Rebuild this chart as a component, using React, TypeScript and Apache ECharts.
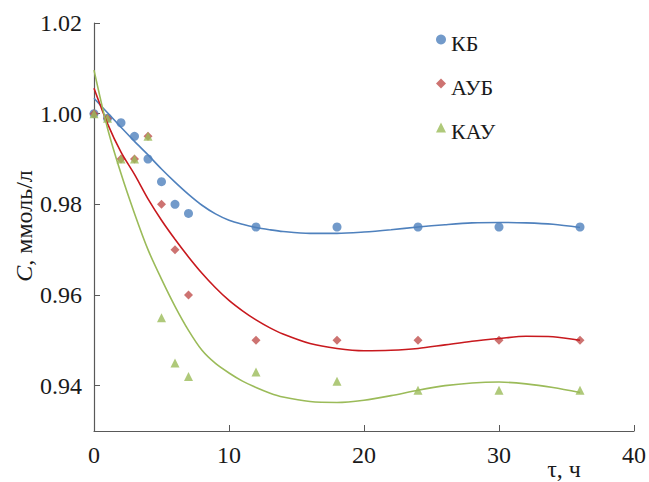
import React, { useEffect, useRef } from "react";
import * as echarts from "echarts";

// Measured points
const xKB = [0, 1, 2, 3, 4, 5, 6, 7, 12, 18, 24, 30, 36];
const yKB = [1.0, 0.999, 0.998, 0.995, 0.99, 0.985, 0.98, 0.978, 0.975, 0.975, 0.975, 0.975, 0.975];

const xAUB = [0, 1, 2, 3, 4, 5, 6, 7, 12, 18, 24, 30, 36];
const yAUB = [1.0, 0.999, 0.99, 0.99, 0.995, 0.98, 0.97, 0.96, 0.95, 0.95, 0.95, 0.95, 0.95];

const xKAU = [0, 1, 2, 3, 4, 5, 6, 7, 12, 18, 24, 30, 36];
const yKAU = [1.0, 0.999, 0.99, 0.99, 0.995, 0.955, 0.945, 0.942, 0.943, 0.941, 0.939, 0.939, 0.939];

// Trend curves
const xCurve = [0, 1, 2, 3, 4, 5, 6, 7, 8, 9, 10, 11, 12, 13, 14, 16, 18, 20, 22, 24, 26, 28, 30, 32, 34, 36];
const yCurveKB = [1.0034, 1.0002, 0.997, 0.9939, 0.9909, 0.9878, 0.9849, 0.9822, 0.9798, 0.9779, 0.9765, 0.9756, 0.9749, 0.9744, 0.974, 0.9736, 0.9736, 0.9739, 0.9744, 0.975, 0.9755, 0.9759, 0.976, 0.9759, 0.9756, 0.9749];
const yCurveAUB = [1.0056, 0.9978, 0.9915, 0.9866, 0.9812, 0.9765, 0.9723, 0.9684, 0.9648, 0.9616, 0.9588, 0.9565, 0.9545, 0.9528, 0.9514, 0.9493, 0.9482, 0.9477, 0.9478, 0.9482, 0.949, 0.9498, 0.9504, 0.9509, 0.9508, 0.95];
const yCurveKAU = [1.0096, 0.9968, 0.9868, 0.978, 0.97, 0.9635, 0.9575, 0.9522, 0.9478, 0.9449, 0.9428, 0.941, 0.9396, 0.9384, 0.9375, 0.9365, 0.9363, 0.9368, 0.9378, 0.939, 0.94, 0.9406, 0.9408, 0.9404, 0.9396, 0.9385];

const yTicks = [0.94, 0.96, 0.98, 1.0, 1.02];
const names = ["КБ", "АУБ", "КАУ"];

const zip = (xs: number[], ys: number[]) => xs.map((x, i) => [x, ys[i]]);

const FONT = "'Liberation Serif', 'Times New Roman', serif";
const BLUE = "#4F81BD";
const RED_M = "#C0504D";
const RED_L = "#C8191E";
const GREEN = "#9BBB59";
const TXT = "#1a1a1a";

export default function App() {
  const ref = useRef<HTMLDivElement>(null);
  useEffect(() => {
    if (!ref.current) return;
    const chart = echarts.init(ref.current, undefined, { renderer: "svg" });
    const axisLine = { lineStyle: { color: "#595959", width: 1.2 } };
    chart.setOption({
      animation: false,
      backgroundColor: "#ffffff",
      grid: { left: 94, right: 14, top: 23, bottom: 51, containLabel: false },
      legend: {
        data: names,
        orient: "vertical",
        left: 431,
        top: 27,
        itemGap: 22,
        itemWidth: 10,
        itemHeight: 10,
        formatter: "{a|{name}}",
        textStyle: {
          fontFamily: FONT,
          fontSize: 22,
          color: TXT,
          rich: { a: { fontFamily: FONT, fontSize: 22, color: TXT, padding: [7, 0, 0, 0] } },
        },
      },
      xAxis: {
        type: "value",
        min: 0,
        max: 40,
        interval: 10,
        axisLine: { ...axisLine, onZero: false },
        axisTick: { inside: true, length: 6, lineStyle: { color: "#595959" } },
        axisLabel: { fontFamily: FONT, fontSize: 24, color: TXT, margin: 12 },
        splitLine: { show: false },
      },
      yAxis: {
        type: "value",
        min: 0.93,
        max: 1.02,
        interval: 0.01,
        axisLine: { show: true, ...axisLine },
        axisTick: { show: true, inside: true, length: 6, customValues: yTicks, lineStyle: { color: "#595959" } },
        axisLabel: {
          fontFamily: FONT,
          fontSize: 24,
          color: TXT,
          margin: 12,
          customValues: yTicks,
          formatter: (v: number) => v.toFixed(2),
        },
        splitLine: { show: false },
      },
      graphic: [
        {
          type: "text",
          x: 24,
          y: 226,
          rotation: Math.PI / 2,
          style: {
            text: "{i|C}, ммоль/л",
            fontFamily: FONT,
            fontSize: 24,
            fill: TXT,
            align: "center",
            verticalAlign: "middle",
            rich: { i: { fontStyle: "italic", fontFamily: FONT, fontSize: 24, fill: TXT } },
          },
        },
        {
          type: "text",
          x: 564,
          y: 469,
          style: {
            text: "τ, ч",
            fontFamily: FONT,
            fontSize: 24,
            fill: TXT,
            align: "center",
            verticalAlign: "middle",
          },
        },
      ],
      series: [
        {
          name: "КБ-trend",
          type: "line",
          data: zip(xCurve, yCurveKB),
          smooth: 0.3,
          symbol: "none",
          lineStyle: { color: BLUE, width: 1.6 },
          z: 3,
        },
        {
          name: "АУБ-trend",
          type: "line",
          data: zip(xCurve, yCurveAUB),
          smooth: 0.3,
          symbol: "none",
          lineStyle: { color: RED_L, width: 1.6 },
          z: 3,
        },
        {
          name: "КАУ-trend",
          type: "line",
          data: zip(xCurve, yCurveKAU),
          smooth: 0.3,
          symbol: "none",
          lineStyle: { color: GREEN, width: 1.6 },
          z: 3,
        },
        {
          name: names[0],
          type: "scatter",
          data: zip(xKB, yKB),
          symbol: "circle",
          symbolSize: 9,
          itemStyle: { color: BLUE },
          z: 2,
        },
        {
          name: names[1],
          type: "scatter",
          data: zip(xAUB, yAUB),
          symbol: "diamond",
          symbolSize: 9,
          itemStyle: { color: RED_M },
          z: 2,
        },
        {
          name: names[2],
          type: "scatter",
          data: zip(xKAU, yKAU),
          symbol: "triangle",
          symbolSize: 9,
          itemStyle: { color: GREEN },
          z: 2,
        },
      ],
    });
    return () => chart.dispose();
  }, []);
  return <div ref={ref} style={{ width: 649, height: 482, position: "absolute", left: 0, top: 0 }} />;
}
